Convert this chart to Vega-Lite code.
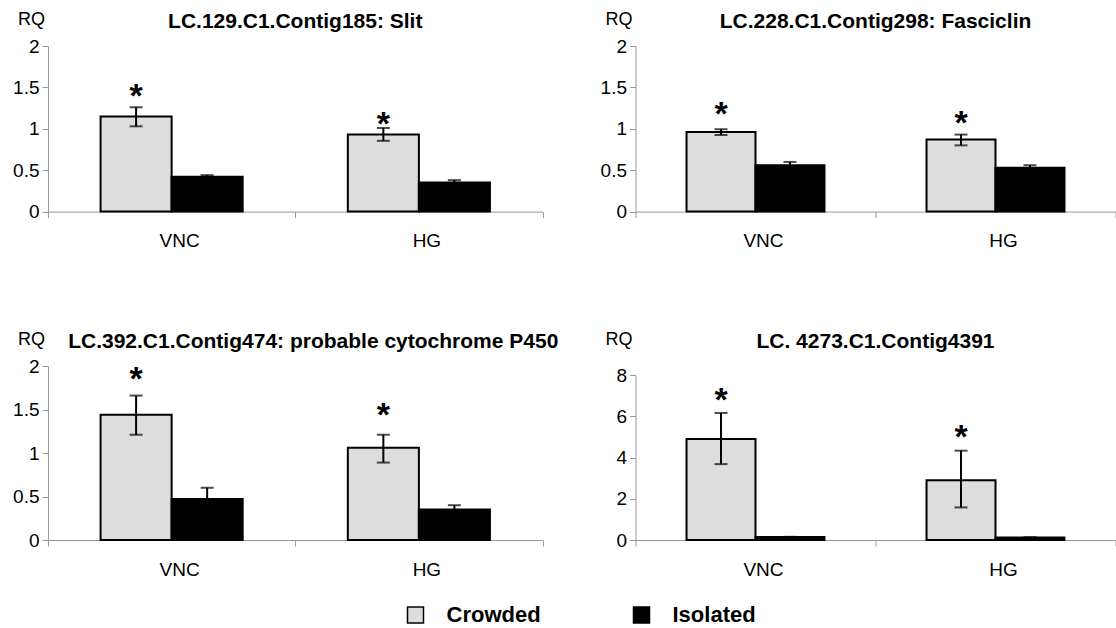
{
  "$schema": "https://vega.github.io/schema/vega-lite/v6.json",
  "background": "white",
  "padding": {"left": 12, "top": 10, "right": 0, "bottom": 0},
  "config": {
    "font": "Liberation Sans",
    "view": {"stroke": null},
    "axis": {"domainColor": "#999999", "tickColor": "#999999", "labelColor": "#000000", "labelFont": "Liberation Sans", "labelFontSize": 19, "grid": false, "domainWidth": 1, "tickWidth": 1, "tickSize": 6},
    "axisY": {"titleAngle": 0, "titleAlign": "left", "titleBaseline": "middle", "titleX": -30.5, "titleY": -26.5, "titleFontSize": 18, "titleFontWeight": "normal", "titleColor": "#000000", "titleFont": "Liberation Sans", "format": "~g", "tickCount": 4, "labelPadding": 3},
    "axisX": {"labelAngle": 0, "tickBand": "extent", "labelOffset": 7.5, "labelPadding": 14},
    "title": {"fontSize": 21, "fontWeight": "bold", "font": "Liberation Sans", "anchor": "middle", "baseline": "alphabetic", "offset": -21, "frame": "group", "color": "#000000"},
    "legend": {"symbolType": "square", "symbolSize": 256, "symbolStrokeColor": "#000000", "symbolStrokeWidth": 1.5, "labelFontSize": 22, "labelFontWeight": "bold", "labelFont": "Liberation Sans", "labelOffset": 20, "columnPadding": 89, "labelColor": "#000000", "padding": 0}
  },
  "datasets": {
    "bars": [
      {"panel": "P1", "tissue": "VNC", "group": "Crowded", "value": 1.15, "lo": 1.03, "hi": 1.26, "star": 1.49},
      {"panel": "P1", "tissue": "VNC", "group": "Isolated", "value": 0.42, "lo": 0.40, "hi": 0.44, "star": null},
      {"panel": "P1", "tissue": "HG", "group": "Crowded", "value": 0.93, "lo": 0.855, "hi": 1.01, "star": 1.16},
      {"panel": "P1", "tissue": "HG", "group": "Isolated", "value": 0.35, "lo": 0.32, "hi": 0.38, "star": null},
      {"panel": "P2", "tissue": "VNC", "group": "Crowded", "value": 0.96, "lo": 0.925, "hi": 0.995, "star": 1.27},
      {"panel": "P2", "tissue": "VNC", "group": "Isolated", "value": 0.56, "lo": 0.53, "hi": 0.60, "star": null},
      {"panel": "P2", "tissue": "HG", "group": "Crowded", "value": 0.87, "lo": 0.80, "hi": 0.93, "star": 1.17},
      {"panel": "P2", "tissue": "HG", "group": "Isolated", "value": 0.53, "lo": 0.50, "hi": 0.56, "star": null},
      {"panel": "P3", "tissue": "VNC", "group": "Crowded", "value": 1.44, "lo": 1.21, "hi": 1.66, "star": 1.94},
      {"panel": "P3", "tissue": "VNC", "group": "Isolated", "value": 0.47, "lo": 0.34, "hi": 0.60, "star": null},
      {"panel": "P3", "tissue": "HG", "group": "Crowded", "value": 1.06, "lo": 0.89, "hi": 1.21, "star": 1.53},
      {"panel": "P3", "tissue": "HG", "group": "Isolated", "value": 0.35, "lo": 0.30, "hi": 0.40, "star": null},
      {"panel": "P4", "tissue": "VNC", "group": "Crowded", "value": 4.9, "lo": 3.68, "hi": 6.16, "star": 7.17},
      {"panel": "P4", "tissue": "VNC", "group": "Isolated", "value": 0.15, "lo": 0.15, "hi": 0.15, "star": null},
      {"panel": "P4", "tissue": "HG", "group": "Crowded", "value": 2.9, "lo": 1.58, "hi": 4.33, "star": 5.36},
      {"panel": "P4", "tissue": "HG", "group": "Isolated", "value": 0.12, "lo": 0.12, "hi": 0.12, "star": null}
    ]
  },
  "columns": 2,
  "bounds": "flush",
  "spacing": {"row": 154, "column": 92.5},
  "resolve": {"scale": {"y": "independent", "x": "independent", "xOffset": "independent"}},
  "concat": [
    {
      "width": 494.5, "height": 165.6,
      "title": {"text": "LC.129.C1.Contig185: Slit"},
      "data": {"name": "bars"},
      "transform": [{"filter": "datum.panel == 'P1'"}],
      "encoding": {
        "x": {"field": "tissue", "type": "nominal", "sort": ["VNC", "HG"], "title": null, "scale": {"paddingInner": 0, "paddingOuter": 0}},
        "xOffset": {"field": "group", "type": "nominal", "sort": ["Crowded", "Isolated"], "scale": {"paddingInner": 0, "paddingOuter": 0.74}}
      },
      "layer": [
        {"mark": {"type": "bar", "stroke": "#000000", "strokeWidth": 2},
         "encoding": {
           "y": {"field": "value", "type": "quantitative", "title": "RQ", "scale": {"domain": [0, 2], "nice": false}},
           "fill": {"field": "group", "type": "nominal", "scale": {"domain": ["Crowded", "Isolated"], "range": ["#dddddd", "#000000"]}, "legend": {"title": null, "orient": "none", "legendX": 356.5, "legendY": 558, "direction": "horizontal"}}
         }},
        {"mark": {"type": "rule", "strokeWidth": 2, "color": "#000000"},
         "encoding": {"y": {"field": "lo", "type": "quantitative", "title": "RQ"}, "y2": {"field": "hi"}}},
        {"mark": {"type": "tick", "size": 13, "thickness": 2, "color": "#000000"},
         "encoding": {"y": {"field": "lo", "type": "quantitative", "title": "RQ"}}},
        {"mark": {"type": "tick", "size": 13, "thickness": 2, "color": "#000000"},
         "encoding": {"y": {"field": "hi", "type": "quantitative", "title": "RQ"}}},
        {"transform": [{"filter": "datum.star != null"}],
         "mark": {"type": "text", "text": "*", "fontSize": 34, "fontWeight": "bold", "baseline": "alphabetic", "dy": 19, "color": "#000000"},
         "encoding": {"y": {"field": "star", "type": "quantitative", "title": "RQ"}}}
      ]
    },
    {
      "width": 480, "height": 165.6,
      "title": {"text": "LC.228.C1.Contig298: Fasciclin"},
      "data": {"name": "bars"},
      "transform": [{"filter": "datum.panel == 'P2'"}],
      "encoding": {
        "x": {"field": "tissue", "type": "nominal", "sort": ["VNC", "HG"], "title": null, "scale": {"paddingInner": 0, "paddingOuter": 0}},
        "xOffset": {"field": "group", "type": "nominal", "sort": ["Crowded", "Isolated"], "scale": {"paddingInner": 0, "paddingOuter": 0.74}}
      },
      "layer": [
        {"mark": {"type": "bar", "stroke": "#000000", "strokeWidth": 2},
         "encoding": {
           "y": {"field": "value", "type": "quantitative", "title": "RQ", "scale": {"domain": [0, 2], "nice": false}},
           "fill": {"field": "group", "type": "nominal", "scale": {"domain": ["Crowded", "Isolated"], "range": ["#dddddd", "#000000"]}, "legend": {"title": null, "orient": "none", "legendX": 356.5, "legendY": 558, "direction": "horizontal"}}
         }},
        {"mark": {"type": "rule", "strokeWidth": 2, "color": "#000000"},
         "encoding": {"y": {"field": "lo", "type": "quantitative", "title": "RQ"}, "y2": {"field": "hi"}}},
        {"mark": {"type": "tick", "size": 13, "thickness": 2, "color": "#000000"},
         "encoding": {"y": {"field": "lo", "type": "quantitative", "title": "RQ"}}},
        {"mark": {"type": "tick", "size": 13, "thickness": 2, "color": "#000000"},
         "encoding": {"y": {"field": "hi", "type": "quantitative", "title": "RQ"}}},
        {"transform": [{"filter": "datum.star != null"}],
         "mark": {"type": "text", "text": "*", "fontSize": 34, "fontWeight": "bold", "baseline": "alphabetic", "dy": 19, "color": "#000000"},
         "encoding": {"y": {"field": "star", "type": "quantitative", "title": "RQ"}}}
      ]
    },
    {
      "width": 494.5, "height": 174,
      "title": {"text": "LC.392.C1.Contig474: probable cytochrome P450", "dx": 18},
      "data": {"name": "bars"},
      "transform": [{"filter": "datum.panel == 'P3'"}],
      "encoding": {
        "x": {"field": "tissue", "type": "nominal", "sort": ["VNC", "HG"], "title": null, "scale": {"paddingInner": 0, "paddingOuter": 0}},
        "xOffset": {"field": "group", "type": "nominal", "sort": ["Crowded", "Isolated"], "scale": {"paddingInner": 0, "paddingOuter": 0.74}}
      },
      "layer": [
        {"mark": {"type": "bar", "stroke": "#000000", "strokeWidth": 2},
         "encoding": {
           "y": {"field": "value", "type": "quantitative", "title": "RQ", "scale": {"domain": [0, 2], "nice": false}},
           "fill": {"field": "group", "type": "nominal", "scale": {"domain": ["Crowded", "Isolated"], "range": ["#dddddd", "#000000"]}, "legend": {"title": null, "orient": "none", "legendX": 356.5, "legendY": 558, "direction": "horizontal"}}
         }},
        {"mark": {"type": "rule", "strokeWidth": 2, "color": "#000000"},
         "encoding": {"y": {"field": "lo", "type": "quantitative", "title": "RQ"}, "y2": {"field": "hi"}}},
        {"mark": {"type": "tick", "size": 13, "thickness": 2, "color": "#000000"},
         "encoding": {"y": {"field": "lo", "type": "quantitative", "title": "RQ"}}},
        {"mark": {"type": "tick", "size": 13, "thickness": 2, "color": "#000000"},
         "encoding": {"y": {"field": "hi", "type": "quantitative", "title": "RQ"}}},
        {"transform": [{"filter": "datum.star != null"}],
         "mark": {"type": "text", "text": "*", "fontSize": 34, "fontWeight": "bold", "baseline": "alphabetic", "dy": 19, "color": "#000000"},
         "encoding": {"y": {"field": "star", "type": "quantitative", "title": "RQ"}}}
      ]
    },
    {
      "width": 480, "height": 174,
      "title": {"text": "LC. 4273.C1.Contig4391"},
      "data": {"name": "bars"},
      "transform": [{"filter": "datum.panel == 'P4'"}],
      "encoding": {
        "x": {"field": "tissue", "type": "nominal", "sort": ["VNC", "HG"], "title": null, "scale": {"paddingInner": 0, "paddingOuter": 0}},
        "xOffset": {"field": "group", "type": "nominal", "sort": ["Crowded", "Isolated"], "scale": {"paddingInner": 0, "paddingOuter": 0.74}}
      },
      "layer": [
        {"mark": {"type": "bar", "stroke": "#000000", "strokeWidth": 2},
         "encoding": {
           "y": {"field": "value", "type": "quantitative", "title": "RQ", "scale": {"domain": [0, 8], "nice": false, "range": [174, 9]}},
           "fill": {"field": "group", "type": "nominal", "scale": {"domain": ["Crowded", "Isolated"], "range": ["#dddddd", "#000000"]}, "legend": {"title": null, "orient": "none", "legendX": 356.5, "legendY": 558, "direction": "horizontal"}}
         }},
        {"mark": {"type": "rule", "strokeWidth": 2, "color": "#000000"},
         "encoding": {"y": {"field": "lo", "type": "quantitative", "title": "RQ"}, "y2": {"field": "hi"}}},
        {"mark": {"type": "tick", "size": 13, "thickness": 2, "color": "#000000"},
         "encoding": {"y": {"field": "lo", "type": "quantitative", "title": "RQ"}}},
        {"mark": {"type": "tick", "size": 13, "thickness": 2, "color": "#000000"},
         "encoding": {"y": {"field": "hi", "type": "quantitative", "title": "RQ"}}},
        {"transform": [{"filter": "datum.star != null"}],
         "mark": {"type": "text", "text": "*", "fontSize": 34, "fontWeight": "bold", "baseline": "alphabetic", "dy": 19, "color": "#000000"},
         "encoding": {"y": {"field": "star", "type": "quantitative", "title": "RQ"}}}
      ]
    }
  ]
}
